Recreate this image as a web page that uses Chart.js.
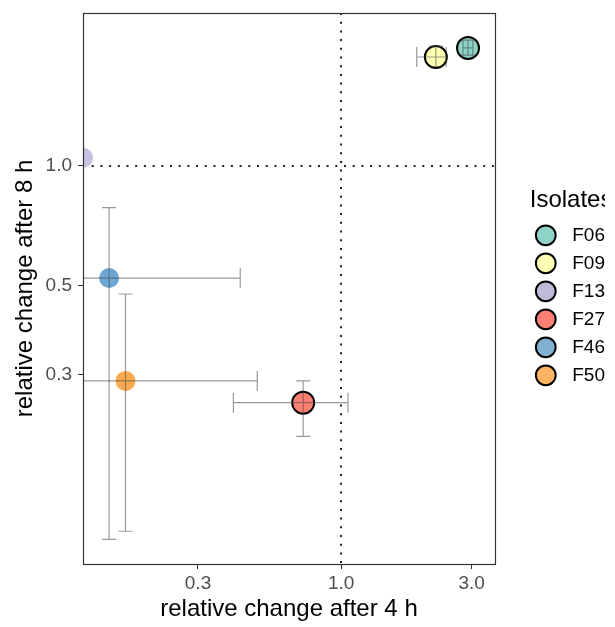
<!DOCTYPE html>
<html>
<head>
<meta charset="utf-8">
<title>Isolates – relative change</title>
<script src="https://cdn.jsdelivr.net/npm/chart.js@4.4.0/dist/chart.umd.min.js"></script>
<style>
  html, body { margin: 0; padding: 0; background: #fff; overflow: hidden; }
  #wrap { position: relative; width: 615px; height: 627px; }
  #wrap canvas { display: block; }
</style>
</head>
<body>
<div id="wrap"><canvas id="chart"></canvas></div>
<script>
// ── Data ──
var isolates  = ['F06', 'F09', 'F13', 'F27', 'F46', 'F50'];
var change4h  = [2.91, 2.22, 0.114, 0.727, 0.142, 0.163];
var change4hLo = [2.79, 1.89, null, 0.404, 0.05, 0.05];
var change4hHi = [3.03, 2.42, null, 1.06, 0.428, 0.494];
var change8h  = [1.97, 1.87, 1.047, 0.255, 0.523, 0.289];
var change8hLo = [1.89, 1.77, null, 0.210, 0.116, 0.1215];
var change8hHi = [2.06, 1.99, null, 0.289, 0.785, 0.477];
var signif    = [true, true, false, true, false, false];

var xTicks = [0.3, 1.0, 3.0];
var yTicks = [0.3, 0.5, 1.0];
var refLine = 1.0;

// ── Styles ──
var fullColors  = ['#8DD3C7', '#FFFFB3', '#BEBADA', '#FB8072', '#80B1D3', '#FDB462'];
var fadedColors = ['#8DD3C7', '#FFFFB3', '#C7C2E2', '#FB8072', '#6FA7D4', '#FAAB52'];
var FONT = "'Liberation Sans', Arial, sans-serif";

var datasets = isolates.map(function(name, i) {
  return {
    label: name,
    data: [{ x: change4h[i], y: change8h[i] }],
    xAxisID: 'x',
    yAxisID: 'y',
    backgroundColor: signif[i] ? fullColors[i] : fadedColors[i],
    borderColor: '#000',
    borderWidth: signif[i] ? 2 : 0,
    pointRadius: signif[i] ? 11 : 10,
    pointHoverRadius: signif[i] ? 11 : 10,
    clip: 0
  };
});

// ── Plugins ──

// dotted reference lines at 1.0 on both axes
var refLines = {
  id: 'refLines',
  beforeDatasetsDraw: function(chart) {
    var ctx = chart.ctx, a = chart.chartArea;
    var px = chart.scales.x.getPixelForValue(refLine);
    var py = chart.scales.y.getPixelForValue(refLine);
    ctx.save();
    ctx.strokeStyle = '#222';
    ctx.lineWidth = 2;
    ctx.setLineDash([2, 6.7]);
    ctx.beginPath();
    ctx.moveTo(Math.round(px), a.top);
    ctx.lineTo(Math.round(px), a.bottom);
    ctx.moveTo(a.left, Math.round(py));
    ctx.lineTo(a.right, Math.round(py));
    ctx.stroke();
    ctx.restore();
  }
};

// error bars, drawn over the points and clipped to the panel
var errorBars = {
  id: 'errorBars',
  afterDatasetsDraw: function(chart) {
    var ctx = chart.ctx, a = chart.chartArea;
    var sx = chart.scales.x, sy = chart.scales.y;
    ctx.save();
    ctx.beginPath();
    ctx.rect(a.left, a.top, a.right - a.left, a.bottom - a.top);
    ctx.clip();
    ctx.strokeStyle = 'rgba(70,70,70,0.55)';
    ctx.lineWidth = 1.2;
    isolates.forEach(function(name, i) {
      var cx = sx.getPixelForValue(change4h[i]);
      var cy = sy.getPixelForValue(change8h[i]);
      ctx.beginPath();
      if (change4hLo[i] != null) {
        var x0 = sx.getPixelForValue(change4hLo[i]);
        var x1 = sx.getPixelForValue(change4hHi[i]);
        ctx.moveTo(x0, cy); ctx.lineTo(x1, cy);
        ctx.moveTo(x0, cy - 10); ctx.lineTo(x0, cy + 10);
        ctx.moveTo(x1, cy - 10); ctx.lineTo(x1, cy + 10);
      }
      if (change8hLo[i] != null) {
        var y0 = sy.getPixelForValue(change8hLo[i]);
        var y1 = sy.getPixelForValue(change8hHi[i]);
        ctx.moveTo(cx, y0); ctx.lineTo(cx, y1);
        ctx.moveTo(cx - 7, y0); ctx.lineTo(cx + 7, y0);
        ctx.moveTo(cx - 7, y1); ctx.lineTo(cx + 7, y1);
      }
      ctx.stroke();
    });
    ctx.restore();
  }
};

// panel border box
var panelBox = {
  id: 'panelBox',
  afterDraw: function(chart) {
    var ctx = chart.ctx, a = chart.chartArea;
    ctx.save();
    ctx.strokeStyle = '#333';
    ctx.lineWidth = 1.2;
    ctx.strokeRect(Math.round(a.left) + 0.5, Math.round(a.top) + 0.5,
      Math.round(a.right - a.left), Math.round(a.bottom - a.top));
    ctx.restore();
  }
};

function fixedTicks(list) {
  return function(scale) {
    scale.ticks = list.map(function(v) { return { value: v }; });
  };
}

new Chart(document.getElementById('chart'), {
  type: 'scatter',
  data: { datasets: datasets },
  plugins: [refLines, errorBars, panelBox],
  options: {
    responsive: true,
    maintainAspectRatio: false,
    animation: false,
    layout: { padding: { top: 11, right: 10, bottom: 0, left: 0 } },
    plugins: {
      tooltip: { enabled: false },
      legend: {
        position: 'right',
        align: 'start',
        onClick: null,
        title: {
          display: true,
          text: 'Isolates',
          position: 'start',
          color: '#000',
          font: { family: FONT, size: 24 },
          padding: { top: 177, bottom: 0 }
        },
        labels: {
          usePointStyle: true,
          boxWidth: 14,
          boxHeight: 14,
          padding: 9,
          textAlign: 'right',
          color: '#000',
          font: { family: FONT, size: 19 },
          generateLabels: function(chart) {
            return isolates.map(function(name, i) {
              return {
                text: name,
                fillStyle: fullColors[i],
                strokeStyle: '#000',
                lineWidth: 2,
                pointStyle: 'circle',
                fontColor: '#000',
                hidden: false,
                datasetIndex: i
              };
            });
          }
        }
      }
    },
    scales: {
      x: {
        type: 'logarithmic',
        position: 'bottom',
        bounds: 'data',
        min: 0.114,
        max: 3.65,
        afterBuildTicks: fixedTicks(xTicks),
        afterFit: function(s) { s.height = 63; },
        grid: { display: true, drawOnChartArea: false, drawTicks: true, tickLength: 5, color: '#333' },
        border: { display: false },
        ticks: {
          padding: 3,
          color: '#4D4D4D',
          font: { family: FONT, size: 19 },
          maxRotation: 0,
          autoSkip: false,
          callback: function(v) { return Number(v).toFixed(1); }
        },
        title: {
          display: true,
          text: 'relative change after 4 h',
          color: '#000',
          font: { family: FONT, size: 24 },
          padding: { top: 0, bottom: 3 }
        }
      },
      y: {
        type: 'logarithmic',
        position: 'left',
        bounds: 'data',
        min: 0.1006,
        max: 2.41,
        afterBuildTicks: fixedTicks(yTicks),
        afterFit: function(s) {
          s.width = 83;
          s.paddingTop = 0;
          s.paddingBottom = 0;
        },
        grid: { display: true, drawOnChartArea: false, drawTicks: true, tickLength: 5, color: '#333' },
        border: { display: false },
        ticks: {
          padding: 6,
          color: '#4D4D4D',
          font: { family: FONT, size: 19 },
          autoSkip: false,
          callback: function(v) { return Number(v).toFixed(1); }
        },
        title: {
          display: true,
          text: 'relative change after 8 h',
          color: '#000',
          font: { family: FONT, size: 24 },
          padding: { top: 11, bottom: 0 }
        }
      },
      // empty spacer between the panel and the legend
      gap: {
        type: 'linear',
        position: 'right',
        grid: { display: false },
        border: { display: false },
        ticks: { display: false },
        afterFit: function(s) {
          s.width = 34.8;
          s.paddingTop = 0;
          s.paddingBottom = 0;
        }
      }
    }
  }
});
</script>
</body>
</html>
